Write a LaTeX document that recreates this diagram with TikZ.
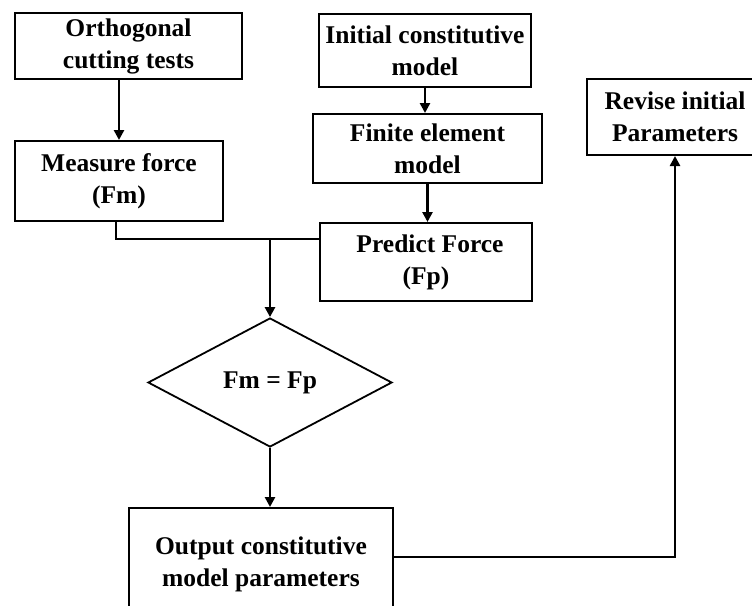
\documentclass[tikz,border=0pt]{standalone}
\usepackage{fontspec}
\setmainfont{Liberation Serif}
\usetikzlibrary{shapes.geometric,arrows.meta}
\begin{document}
\begin{tikzpicture}[x=1pt,y=-1pt,
  box/.style={draw,line width=2pt,rectangle,inner sep=0pt,align=center,font=\fontsize{25.5}{32}\selectfont\bfseries},
  dia/.style={draw,line width=1.8pt,diamond,inner sep=0pt,align=center,font=\fontsize{25.5}{32}\selectfont\bfseries},
  conn/.style={line width=2.8pt},
  arr/.style={conn,-{Triangle[length=10pt,width=10pt]}}]
\useasboundingbox (0,0) rectangle (752,605);
\clip (0,0) rectangle (752,605);
\node[box,minimum width=227pt,minimum height=66pt] (orth) at (128.5,46) {Orthogonal\\cutting tests};
\node[box,minimum width=208pt,minimum height=80pt] (meas) at (119,181) {Measure force\\(Fm)};
\node[box,minimum width=212pt,minimum height=73pt] (init) at (425,50.5) {Initial constitutive\\model};
\node[box,minimum width=229pt,minimum height=69pt] (fe) at (427.5,148.5) {Finite element\\model};
\node[box,minimum width=212pt,minimum height=78pt] (pred) at (426,262) {\hspace*{8pt}Predict Force\\(Fp)};
\node[box,minimum width=176pt,minimum height=76pt] (rev) at (675,117) {Revise initial\\Parameters};
\node[dia,minimum width=244pt,minimum height=129pt] (dec) at (270,382.5) {Fm = Fp};
\node[box,minimum width=264pt,minimum height=112pt] (out) at (261,564) {Output constitutive\\model parameters};
\coordinate (jn) at (270,239);
\draw[arr] (meas.north |- orth.south) -- (meas.north);
\draw[arr] (init.south) -- (init.south |- fe.north);
\draw[arr] (fe.south) -- (fe.south |- pred.north);
\draw[conn] ([xshift=-3pt]meas.south) |- (jn) -- (jn -| pred.west);
\draw[arr] (jn) -- (dec.north);
\draw[arr] (dec.south) -- (dec.south |- out.north);
\draw[arr] ([yshift=7pt]out.east) -| (rev.south);
\end{tikzpicture}
\end{document}
